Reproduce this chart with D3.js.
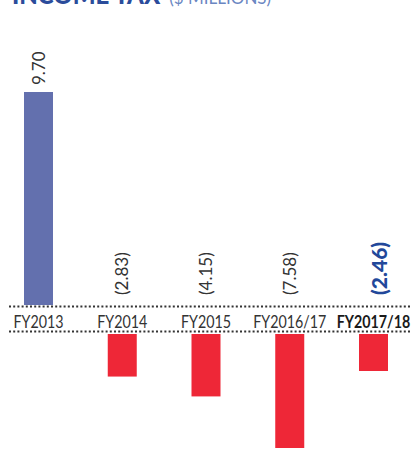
<!DOCTYPE html>
<html>
<head>
<meta charset="UTF-8">
<title>Income Tax</title>
<script src="https://cdn.jsdelivr.net/npm/d3@7"></script>
<style>
  body { margin: 0; background: #fff; }
  svg { display: block; }
</style>
</head>
<body>
<script>
// data
var categories = ["FY2013", "FY2014", "FY2015", "FY2016/17", "FY2017/18"];
var values = [9.70, -2.83, -4.15, -7.58, -2.46];
var valueLabels = ["9.70", "(2.83)", "(4.15)", "(7.58)", "(2.46)"];
var current = "FY2017/18";

var W = 412, H = 459;
var svg = d3.select("body").append("svg")
  .attr("width", W)
  .attr("height", H);

// title (cut off at the top of the frame, as in the original)
var title = svg.append("text")
  .attr("x", 12)
  .attr("y", 4)
  .style("font-family", "Lato, 'Open Sans', sans-serif");
title.append("tspan")
  .attr("font-weight", "900")
  .attr("font-size", 24)
  .attr("fill", "#2b4c9b")
  .text("INCOME TAX");
title.append("tspan")
  .attr("font-size", 17)
  .attr("fill", "#6a86c2")
  .attr("dx", 9)
  .text("($ MILLIONS)");

var x = d3.scalePoint().domain(categories).range([38.5, 373.5]);
var barW = 29;

var topLine = 306.5, botLine = 331.5;
// positive bars sit on the top rule, negative bars hang below the bottom one
var yPos = d3.scaleLinear().domain([0, 9.70]).range([305, 92]);
var yNeg = d3.scaleLinear().domain([0, -7.58]).range([334, 448]);

// dotted rules
[topLine, botLine].forEach(function(y) {
  svg.append("line")
    .attr("x1", 9).attr("x2", W)
    .attr("y1", y).attr("y2", y)
    .attr("stroke", "#333")
    .attr("stroke-width", 2)
    .attr("stroke-dasharray", "2,2.2");
});

var data = categories.map(function(c, i) {
  return { cat: c, v: values[i], label: valueLabels[i] };
});

svg.selectAll("rect.bar")
  .data(data)
  .enter()
  .append("rect")
  .attr("class", "bar")
  .attr("x", function(d) { return x(d.cat) - barW / 2; })
  .attr("width", barW)
  .attr("y", function(d) { return d.v >= 0 ? yPos(d.v) : yNeg(0); })
  .attr("height", function(d) {
    return d.v >= 0 ? yPos(0) - yPos(d.v) : yNeg(d.v) - yNeg(0);
  })
  .attr("fill", function(d) { return d.v >= 0 ? "#6370ae" : "#ee2737"; });

// category labels between the rules (squeezed a bit, the source font is condensed)
svg.selectAll("text.cat")
  .data(data)
  .enter()
  .append("text")
  .attr("class", "cat")
  .attr("transform", function(d) {
    return "translate(" + x(d.cat) + ",328) scale(0.84,1)";
  })
  .attr("text-anchor", "middle")
  .style("font-family", "Lato, sans-serif")
  .attr("font-size", 17)
  .attr("font-weight", function(d) { return d.cat === current ? "bold" : "normal"; })
  .attr("fill", function(d) { return d.cat === current ? "#1a1a1a" : "#333"; })
  .text(function(d) { return d.cat; });

// rotated value labels
svg.selectAll("text.val")
  .data(data)
  .enter()
  .append("text")
  .attr("class", "val")
  .attr("transform", function(d) {
    var bx = x(d.cat) + (d.cat === current ? 13 : 6);
    var by = d.v >= 0 ? yPos(d.v) - 7 : 295;
    return "translate(" + bx + "," + by + ") rotate(-90)";
  })
  .style("font-family", "Lato, sans-serif")
  .attr("font-size", function(d) { return d.cat === current ? 21 : 17; })
  .attr("font-weight", function(d) { return d.cat === current ? "900" : "normal"; })
  .attr("fill", function(d) { return d.cat === current ? "#22489a" : "#333"; })
  .text(function(d) { return d.label; });
</script>
</body>
</html>
